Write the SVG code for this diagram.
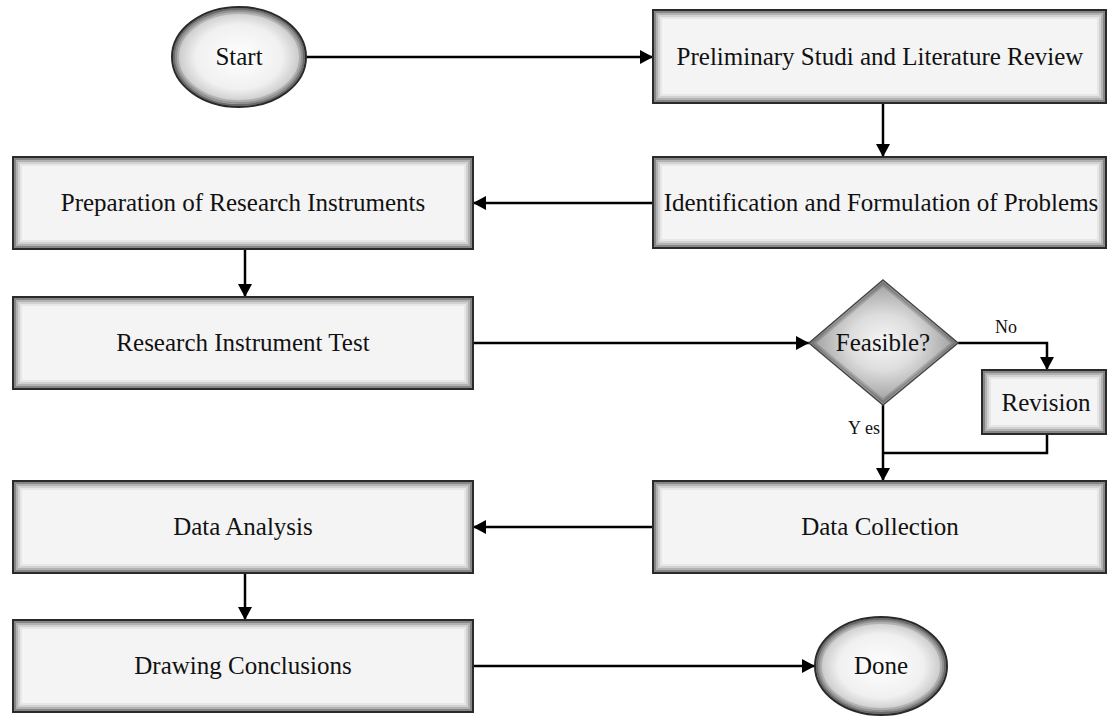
<svg xmlns="http://www.w3.org/2000/svg" width="1108" height="716" viewBox="0 0 1108 716">
<defs>
<radialGradient id="oval" cx="50%" cy="50%" r="50%">
<stop offset="0" stop-color="#ffffff"/>
<stop offset="0.65" stop-color="#f0f0f0"/>
<stop offset="1" stop-color="#bdbdbd"/>
</radialGradient>
<radialGradient id="dia" cx="50%" cy="50%" r="50%">
<stop offset="0" stop-color="#f6f6f6"/>
<stop offset="0.45" stop-color="#dddddd"/>
<stop offset="1" stop-color="#9a9a9a"/>
</radialGradient>
<marker id="arr" markerUnits="userSpaceOnUse" markerWidth="14" markerHeight="16" refX="13" refY="7" orient="auto">
<path d="M0,0 L13,7 L0,14 z" fill="#000"/>
</marker>
<style>
.bg{fill:#f4f4f4;stroke:none}
.i1{fill:none;stroke:#000;stroke-opacity:0.45;stroke-width:2}
.i2{fill:none;stroke:#000;stroke-opacity:0.27;stroke-width:2}
.i3{fill:none;stroke:#000;stroke-opacity:0.14;stroke-width:2}
.i4{fill:none;stroke:#000;stroke-opacity:0.05;stroke-width:2}
.o{fill:none;stroke:#2a2a2a;stroke-width:2}
.ov{fill:url(#oval);stroke:#2a2a2a;stroke-width:2}
.dm{fill:url(#dia);stroke:#444;stroke-width:1.5}
.t{font-family:"Liberation Serif","Times New Roman",serif;font-size:25px;fill:#111;text-anchor:middle}
.s{font-family:"Liberation Serif","Times New Roman",serif;font-size:18px;fill:#111;text-anchor:middle}
.c{fill:none;stroke:#000;stroke-width:2.5}
</style>
</defs>
<rect width="1108" height="716" fill="#fff"/>
<g id="connectors">
<path class="c" d="M306,57 H653" marker-end="url(#arr)"/>
<path class="c" d="M883,103 V157" marker-end="url(#arr)"/>
<path class="c" d="M653,203 H473" marker-end="url(#arr)"/>
<path class="c" d="M245,249 V297" marker-end="url(#arr)"/>
<path class="c" d="M473,343 H809" marker-end="url(#arr)"/>
<path class="c" d="M958,343 H1047 V370" marker-end="url(#arr)"/>
<path class="c" d="M1047,434 V453 H883"/>
<path class="c" d="M883,405 V481" marker-end="url(#arr)"/>
<path class="c" d="M653,527 H473" marker-end="url(#arr)"/>
<path class="c" d="M245,573 V620" marker-end="url(#arr)"/>
<path class="c" d="M473,666 H815" marker-end="url(#arr)"/>
<text class="s" font-family="Liberation Serif, Times New Roman, serif" x="1006" y="333">No</text>
<text class="s" font-family="Liberation Serif, Times New Roman, serif" x="864" y="434">Y es</text>
</g>
<g id="start">
<ellipse class="ov" cx="239" cy="57" rx="67" ry="50"/>
<ellipse class="i1" cx="239" cy="57" rx="65" ry="48"/>
<ellipse class="i2" cx="239" cy="57" rx="63" ry="46"/>
<ellipse class="i3" cx="239" cy="57" rx="61" ry="44"/>
<text class="t" font-family="Liberation Serif, Times New Roman, serif" x="239" y="65">Start</text>
</g>
<g id="prelim">
<rect class="bg" x="653" y="10" width="453" height="93"/>
<rect class="i1" x="655" y="12" width="449" height="89"/>
<rect class="i2" x="657" y="14" width="445" height="85"/>
<rect class="i3" x="659" y="16" width="441" height="81"/>
<rect class="i4" x="661" y="18" width="437" height="77"/>
<rect class="o" x="653" y="10" width="453" height="93"/>
<text class="t" font-family="Liberation Serif, Times New Roman, serif" x="880" y="65">Preliminary Studi and Literature Review</text>
</g>
<g id="ident">
<rect class="bg" x="653" y="157" width="453" height="91"/>
<rect class="i1" x="655" y="159" width="449" height="87"/>
<rect class="i2" x="657" y="161" width="445" height="83"/>
<rect class="i3" x="659" y="163" width="441" height="79"/>
<rect class="i4" x="661" y="165" width="437" height="75"/>
<rect class="o" x="653" y="157" width="453" height="91"/>
<text class="t" font-family="Liberation Serif, Times New Roman, serif" x="881" y="211">Identification and Formulation of Problems</text>
</g>
<g id="prep">
<rect class="bg" x="13" y="157" width="460" height="92"/>
<rect class="i1" x="15" y="159" width="456" height="88"/>
<rect class="i2" x="17" y="161" width="452" height="84"/>
<rect class="i3" x="19" y="163" width="448" height="80"/>
<rect class="i4" x="21" y="165" width="444" height="76"/>
<rect class="o" x="13" y="157" width="460" height="92"/>
<text class="t" font-family="Liberation Serif, Times New Roman, serif" x="243" y="211">Preparation of Research Instruments</text>
</g>
<g id="test">
<rect class="bg" x="13" y="297" width="460" height="92"/>
<rect class="i1" x="15" y="299" width="456" height="88"/>
<rect class="i2" x="17" y="301" width="452" height="84"/>
<rect class="i3" x="19" y="303" width="448" height="80"/>
<rect class="i4" x="21" y="305" width="444" height="76"/>
<rect class="o" x="13" y="297" width="460" height="92"/>
<text class="t" font-family="Liberation Serif, Times New Roman, serif" x="243" y="351">Research Instrument Test</text>
</g>
<g id="feasible">
<path class="dm" d="M883,280 L958,343 L883,405 L809,343 Z"/>
<path class="i2" d="M883,283 L955,343 L883,402 L812,343 Z"/>
<path class="i3" d="M883,285.5 L952,343 L883,399.5 L815,343 Z"/>
<text class="t" font-family="Liberation Serif, Times New Roman, serif" x="883" y="351">Feasible?</text>
</g>
<g id="revision">
<rect class="bg" x="982" y="370" width="124" height="64"/>
<rect class="i1" x="984" y="372" width="120" height="60"/>
<rect class="i2" x="986" y="374" width="116" height="56"/>
<rect class="i3" x="988" y="376" width="112" height="52"/>
<rect class="i4" x="990" y="378" width="108" height="48"/>
<rect class="o" x="982" y="370" width="124" height="64"/>
<text class="t" font-family="Liberation Serif, Times New Roman, serif" x="1046" y="411">Revision</text>
</g>
<g id="collection">
<rect class="bg" x="653" y="481" width="453" height="92"/>
<rect class="i1" x="655" y="483" width="449" height="88"/>
<rect class="i2" x="657" y="485" width="445" height="84"/>
<rect class="i3" x="659" y="487" width="441" height="80"/>
<rect class="i4" x="661" y="489" width="437" height="76"/>
<rect class="o" x="653" y="481" width="453" height="92"/>
<text class="t" font-family="Liberation Serif, Times New Roman, serif" x="880" y="535">Data Collection</text>
</g>
<g id="analysis">
<rect class="bg" x="13" y="481" width="460" height="92"/>
<rect class="i1" x="15" y="483" width="456" height="88"/>
<rect class="i2" x="17" y="485" width="452" height="84"/>
<rect class="i3" x="19" y="487" width="448" height="80"/>
<rect class="i4" x="21" y="489" width="444" height="76"/>
<rect class="o" x="13" y="481" width="460" height="92"/>
<text class="t" font-family="Liberation Serif, Times New Roman, serif" x="243" y="535">Data Analysis</text>
</g>
<g id="conclusions">
<rect class="bg" x="13" y="620" width="460" height="92"/>
<rect class="i1" x="15" y="622" width="456" height="88"/>
<rect class="i2" x="17" y="624" width="452" height="84"/>
<rect class="i3" x="19" y="626" width="448" height="80"/>
<rect class="i4" x="21" y="628" width="444" height="76"/>
<rect class="o" x="13" y="620" width="460" height="92"/>
<text class="t" font-family="Liberation Serif, Times New Roman, serif" x="243" y="674">Drawing Conclusions</text>
</g>
<g id="done">
<ellipse class="ov" cx="881" cy="666" rx="66" ry="49"/>
<ellipse class="i1" cx="881" cy="666" rx="64" ry="47"/>
<ellipse class="i2" cx="881" cy="666" rx="62" ry="45"/>
<ellipse class="i3" cx="881" cy="666" rx="60" ry="43"/>
<text class="t" font-family="Liberation Serif, Times New Roman, serif" x="881" y="674">Done</text>
</g>
</svg>
